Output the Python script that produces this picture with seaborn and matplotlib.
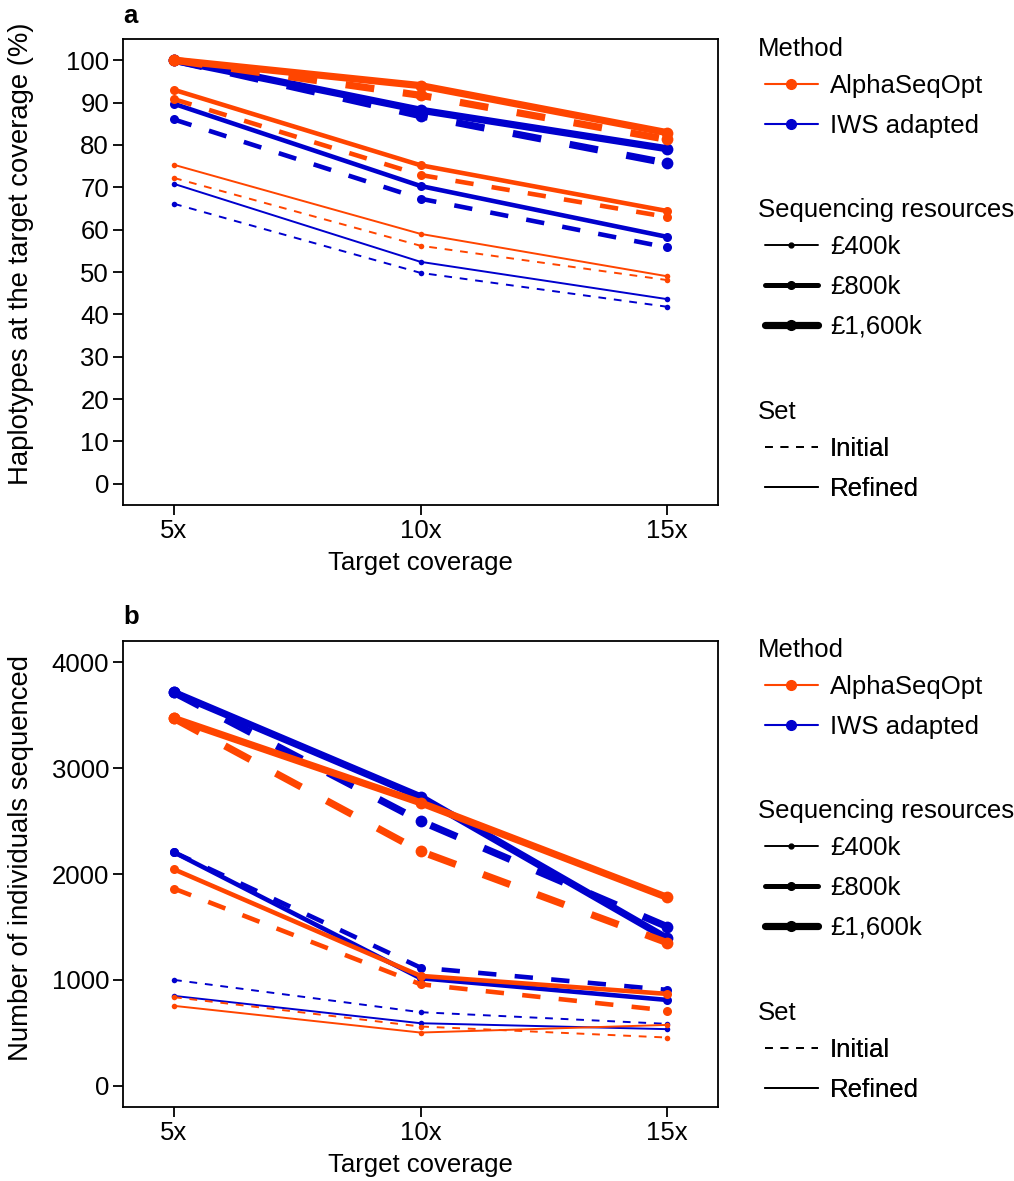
import numpy as np
import pandas as pd
import matplotlib
matplotlib.use("Agg")
import matplotlib.pyplot as plt
from matplotlib.lines import Line2D
import seaborn as sns

# ---------------- data ----------------
coverage = ["5x", "10x", "15x"]
methods = ["AlphaSeqOpt", "IWS adapted"]
resources = ["£400k", "£800k", "£1,600k"]
sets = ["Initial", "Refined"]

# panel a: haplotypes at the target coverage (%)
hap_aso_400_init = [72.2, 56.2, 48.1]
hap_aso_400_ref = [75.3, 59.0, 49.0]
hap_aso_800_init = [90.8, 72.9, 63.0]
hap_aso_800_ref = [93.0, 75.2, 64.4]
hap_aso_1600_init = [100.0, 91.7, 81.3]
hap_aso_1600_ref = [100.0, 94.0, 82.9]
hap_iws_400_init = [66.1, 49.8, 41.8]
hap_iws_400_ref = [70.8, 52.4, 43.6]
hap_iws_800_init = [86.0, 67.3, 55.8]
hap_iws_800_ref = [89.7, 70.3, 58.3]
hap_iws_1600_init = [100.0, 86.9, 75.7]
hap_iws_1600_ref = [100.0, 88.2, 79.1]

# panel b: number of individuals sequenced
ind_aso_400_init = [837, 560, 456]
ind_aso_400_ref = [755, 503, 575]
ind_aso_800_init = [1862, 959, 711]
ind_aso_800_ref = [2044, 1038, 868]
ind_aso_1600_init = [3469, 2214, 1352]
ind_aso_1600_ref = [3469, 2673, 1780]
ind_iws_400_init = [1000, 695, 585]
ind_iws_400_ref = [849, 591, 535]
ind_iws_800_init = [2205, 1116, 906]
ind_iws_800_ref = [2205, 1016, 811]
ind_iws_1600_init = [3714, 2500, 1503]
ind_iws_1600_ref = [3714, 2729, 1393]

hap = {
    ("AlphaSeqOpt", "£400k", "Initial"): hap_aso_400_init,
    ("AlphaSeqOpt", "£400k", "Refined"): hap_aso_400_ref,
    ("AlphaSeqOpt", "£800k", "Initial"): hap_aso_800_init,
    ("AlphaSeqOpt", "£800k", "Refined"): hap_aso_800_ref,
    ("AlphaSeqOpt", "£1,600k", "Initial"): hap_aso_1600_init,
    ("AlphaSeqOpt", "£1,600k", "Refined"): hap_aso_1600_ref,
    ("IWS adapted", "£400k", "Initial"): hap_iws_400_init,
    ("IWS adapted", "£400k", "Refined"): hap_iws_400_ref,
    ("IWS adapted", "£800k", "Initial"): hap_iws_800_init,
    ("IWS adapted", "£800k", "Refined"): hap_iws_800_ref,
    ("IWS adapted", "£1,600k", "Initial"): hap_iws_1600_init,
    ("IWS adapted", "£1,600k", "Refined"): hap_iws_1600_ref,
}
ind = {
    ("AlphaSeqOpt", "£400k", "Initial"): ind_aso_400_init,
    ("AlphaSeqOpt", "£400k", "Refined"): ind_aso_400_ref,
    ("AlphaSeqOpt", "£800k", "Initial"): ind_aso_800_init,
    ("AlphaSeqOpt", "£800k", "Refined"): ind_aso_800_ref,
    ("AlphaSeqOpt", "£1,600k", "Initial"): ind_aso_1600_init,
    ("AlphaSeqOpt", "£1,600k", "Refined"): ind_aso_1600_ref,
    ("IWS adapted", "£400k", "Initial"): ind_iws_400_init,
    ("IWS adapted", "£400k", "Refined"): ind_iws_400_ref,
    ("IWS adapted", "£800k", "Initial"): ind_iws_800_init,
    ("IWS adapted", "£800k", "Refined"): ind_iws_800_ref,
    ("IWS adapted", "£1,600k", "Initial"): ind_iws_1600_init,
    ("IWS adapted", "£1,600k", "Refined"): ind_iws_1600_ref,
}


def to_long(d):
    rows = []
    for (m, r, s), vals in d.items():
        for c, v in zip(coverage, vals):
            rows.append(dict(Method=m, Resources=r, Set=s, Coverage=c, Value=v))
    return pd.DataFrame(rows)


df_a = to_long(hap)
df_b = to_long(ind)

# ---------------- style ----------------
sns.set_style("ticks")
plt.rcParams["font.family"] = ["Liberation Sans", "DejaVu Sans"]
FS = 18.5
FS_Y = 19.8
plt.rcParams.update({
    "font.size": FS,
    "text.color": "black",
    "axes.labelcolor": "black",
    "axes.linewidth": 1.3,
    "xtick.major.width": 1.3,
    "ytick.major.width": 1.3,
    "xtick.major.size": 7,
    "ytick.major.size": 7,
    "xtick.major.pad": 3,
    "ytick.major.pad": 3,
    "xtick.color": "black",
    "ytick.color": "black",
    "xtick.labelcolor": "black",
    "ytick.labelcolor": "black",
    "axes.edgecolor": "black",
    "xtick.labelsize": FS,
    "ytick.labelsize": FS,
})

palette = {"AlphaSeqOpt": "#FF4500", "IWS adapted": "#0000CD"}
lws = {"£400k": 1.4, "£800k": 3.3, "£1,600k": 5.2}
mss = {"£400k": 4.0, "£800k": 6.5, "£1,600k": 8.5}

W, H = 1014, 1181
fig = plt.figure(figsize=(W / 100, H / 100), dpi=100)
ax_a = fig.add_axes([123 / W, 1 - 505 / H, (718 - 123) / W, (505 - 39) / H])
ax_b = fig.add_axes([123 / W, 1 - 1107 / H, (718 - 123) / W, (1107 - 641) / H])


def draw(ax, df):
    for res in resources:
        sub = df[df["Resources"] == res]
        sns.lineplot(
            data=sub, x="Coverage", y="Value",
            hue="Method", hue_order=["IWS adapted", "AlphaSeqOpt"], palette=palette,
            style="Set", style_order=sets,
            dashes={"Initial": (4, 4), "Refined": ""},
            markers={"Initial": "o", "Refined": "o"},
            estimator=None, sort=False,
            linewidth=lws[res], markersize=mss[res], markeredgewidth=0,
            dash_capstyle="butt", solid_capstyle="round", solid_joinstyle="round",
            legend=False, ax=ax,
        )
    ax.set_xlim(-0.207, 2.207)
    for sp in ax.spines.values():
        sp.set_visible(True)
        sp.set_linewidth(1.3)
        sp.set_color("black")
    ax.set_xlabel("Target coverage", fontsize=FS, labelpad=6)


draw(ax_a, df_a)
ax_a.set_ylim(-5, 105)
ax_a.set_yticks(np.arange(0, 101, 10))
ax_a.set_ylabel("Haplotypes at the target coverage (%)", fontsize=FS_Y)
ax_a.yaxis.set_label_coords(-0.15, 0.54)

draw(ax_b, df_b)
ax_b.set_ylim(-200, 4200)
ax_b.set_yticks([0, 1000, 2000, 3000, 4000])
ax_b.set_ylabel("Number of individuals sequenced", fontsize=FS_Y)
ax_b.yaxis.set_label_coords(-0.15, 0.534)

fig.text(123 / W, 1 - 23 / H, "a", fontsize=FS, fontweight="bold", va="baseline", ha="left")
fig.text(123 / W, 1 - 624 / H, "b", fontsize=FS, fontweight="bold", va="baseline", ha="left")


# ---------------- legends ----------------
def add_legends(ax, off):
    common = dict(loc="center left", bbox_transform=fig.transFigure, frameon=False,
                  fontsize=FS, handlelength=2.06, handletextpad=0.47, labelspacing=0.62,
                  borderpad=0, borderaxespad=0)
    x_title = 758 / W
    x_leg = 765 / W
    fig.text(x_title, 1 - (56 + off) / H, "Method", fontsize=FS, va="baseline", ha="left")
    h1 = [Line2D([], [], color=palette[m], lw=1.5, marker="o", markersize=7) for m in methods]
    l1 = ax.legend(h1, methods, bbox_to_anchor=(x_leg, 1 - (106 + off) / H), **common)
    ax.add_artist(l1)
    fig.text(x_title, 1 - (217 + off) / H, "Sequencing resources", fontsize=FS,
             va="baseline", ha="left")
    h2 = [Line2D([], [], color="black", lw=lw, marker="o", markersize=ms)
          for lw, ms in [(1.4, 3.5), (3.6, 5.5), (5.2, 7.0)]]
    l2 = ax.legend(h2, resources, bbox_to_anchor=(x_leg, 1 - (287 + off) / H), **common)
    ax.add_artist(l2)
    fig.text(x_title, 1 - (419 + off) / H, "Set", fontsize=FS, va="baseline", ha="left")
    h3 = [Line2D([], [], color="black", lw=1.4, dashes=(4, 4), dash_capstyle="butt"),
          Line2D([], [], color="black", lw=1.4)]
    l3 = ax.legend(h3, sets, bbox_to_anchor=(x_leg, 1 - (469 + off) / H), **common)
    ax.add_artist(l3)


add_legends(ax_a, 0)
add_legends(ax_b, 601)

fig.savefig("out.png", dpi=100)
